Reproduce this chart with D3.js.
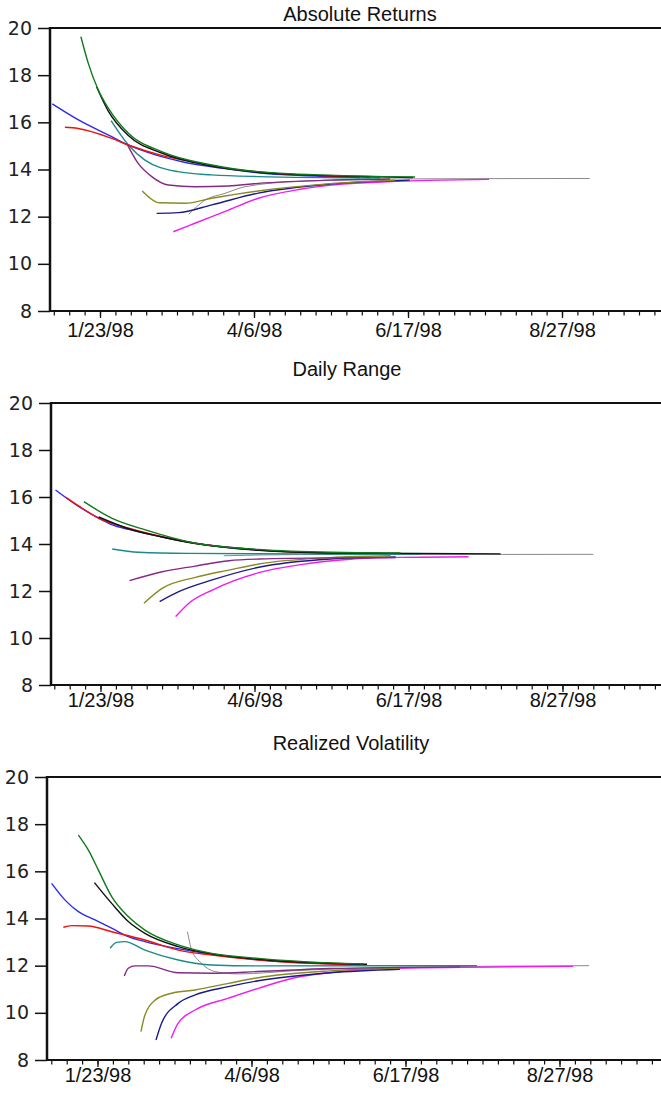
<!DOCTYPE html>
<html><head><meta charset="utf-8">
<script src="https://cdn.jsdelivr.net/npm/d3@7"></script>
<style>
html,body{margin:0;padding:0;background:#fff;}
svg{display:block;}
</style></head>
<body>
<svg id="c" width="661" height="1094"></svg>
<script>
// ---- tick labels / categories ----
const xMajorPos = [0, 50, 100, 150];                 // trading days from 1/23/98
const xMajorLabels = ["1/23/98", "4/6/98", "6/17/98", "8/27/98"];
const xMinorPos = d3.range(-15, 185, 5);
const yTicks = [8, 10, 12, 14, 16, 18, 20];
const titles = ["Absolute Returns", "Daily Range", "Realized Volatility"];
const seriesNames = ["gray", "magenta", "navy", "olive", "purple", "teal", "blue", "red", "black", "green"];

// ---- Absolute Returns: [trading day, value] ----
const ar_blue = [[-15.5,16.78],[-7,16.1],[3.8,15.39],[9.1,15.04],[18,14.62],[27,14.32],[40,14.05],[51.3,13.86],[74.7,13.7],[84.4,13.66]];
const ar_red = [[-11.4,15.79],[-7.1,15.74],[3.8,15.32],[9.2,15.04],[20,14.6],[29.2,14.35],[40,14.08],[51.3,13.9],[74.7,13.72],[87.7,13.67]];
const ar_green = [[-6.2,19.63],[-3.8,18.5],[-0.55,17.37],[2.7,16.6],[9.2,15.54],[20,14.76],[36.3,14.19],[51.3,13.91],[80,13.74],[102.3,13.68]];
const ar_black = [[-1.1,17.5],[2.6,16.5],[9.1,15.45],[20,14.7],[36.3,14.15],[51.3,13.88],[80,13.72],[101.6,13.66]];
const ar_teal = [[3.6,16.07],[9.2,15.04],[14.6,14.4],[25.3,13.91],[36.3,13.77],[51.3,13.7],[91,13.64]];
const ar_purple = [[8.7,15.1],[12.4,14.26],[16.8,13.7],[22.2,13.34],[30.8,13.27],[41.6,13.3],[51.3,13.41],[74.7,13.55],[94.2,13.6]];
const ar_olive = [[13.7,13.09],[19.5,12.59],[27.6,12.57],[36.3,12.78],[51.4,13.09],[74.7,13.4],[95.8,13.55]];
const ar_navy = [[18.4,12.14],[25.4,12.17],[36.3,12.5],[51.4,13.0],[74.7,13.38],[100.6,13.55]];
const ar_gray = [[28.9,12.11],[34.1,12.7],[40.6,12.99],[47.1,13.27],[65,13.5],[97.4,13.6],[159,13.62]];
const ar_magenta = [[23.8,11.36],[30.8,11.72],[41.7,12.28],[51.4,12.78],[65,13.16],[77.9,13.37],[93.1,13.48],[126.3,13.58]];

// ---- Daily Range ----
const dr_blue = [[-14.6,16.3],[-7,15.59],[-0.55,15.1],[3.8,14.81],[9.2,14.62],[20,14.3],[30.8,14.03],[51.3,13.75],[74.7,13.62],[87.7,13.6]];
const dr_red = [[-11.4,16.0],[-7.1,15.62],[-0.55,15.09],[9.2,14.67],[20,14.31],[30.8,14.03],[51.4,13.74],[74.7,13.62],[90.9,13.6]];
const dr_green = [[-5.4,15.8],[3.8,15.09],[14.6,14.6],[30.8,14.03],[51.4,13.77],[74.7,13.65],[97.4,13.62]];
const dr_black = [[-0.6,15.15],[9.1,14.65],[20,14.3],[30.8,14.02],[51.3,13.73],[74.7,13.62],[129.9,13.58]];
const dr_teal = [[3.8,13.79],[12.4,13.65],[28.6,13.6],[65,13.58],[103.9,13.57]];
const dr_purple = [[9.4,12.44],[20,12.82],[30.8,13.06],[41.7,13.29],[51.4,13.36],[74.7,13.41],[95.8,13.42]];
const dr_olive = [[14.1,11.48],[20,12.11],[30.8,12.58],[41.7,12.89],[51.4,13.15],[74.7,13.42],[94.2,13.5]];
const dr_navy = [[19.2,11.55],[25.4,11.97],[36.3,12.47],[51.4,13.01],[74.7,13.36],[95.8,13.45]];
const dr_gray = [[40,13.5],[65,13.55],[160,13.56]];
const dr_magenta = [[24.4,10.91],[28.7,11.48],[36.3,12.04],[51.4,12.78],[65,13.12],[81.2,13.35],[97.4,13.43],[119.5,13.46]];

// ---- Realized Volatility ----
const rv_blue = [[-14.9,15.49],[-10.6,14.79],[-6.2,14.29],[-0.8,13.94],[4.6,13.59],[10,13.23],[15.4,13.02],[26.1,12.72],[37.1,12.48],[52.1,12.25],[75.5,12.08],[85.2,12.05]];
const rv_red = [[-11.1,13.63],[-8.4,13.7],[-3,13.68],[4.6,13.44],[15.4,13.09],[26.2,12.66],[37.1,12.45],[52.1,12.24],[75.5,12.07],[82,12.05]];
const rv_green = [[-6.2,17.54],[-3,16.91],[0.26,16.06],[4.6,14.93],[10,14.08],[15.4,13.51],[26.2,12.88],[37.1,12.52],[52.2,12.31],[75.5,12.12],[86.2,12.08]];
const rv_black = [[-1,15.52],[4.6,14.64],[10,13.87],[15.4,13.37],[26.2,12.81],[37.1,12.5],[52.2,12.27],[75.5,12.1],[87.5,12.06]];
const rv_teal = [[4.1,12.74],[6.2,12.99],[8.9,13.02],[15.4,12.66],[26.2,12.24],[37.1,12.03],[52.2,11.99],[123.2,12.0]];
const rv_purple = [[8.7,11.56],[10,11.89],[12.2,11.99],[16.5,11.99],[26.2,11.7],[37.1,11.68],[52.2,11.75],[75.5,11.88],[117.7,11.95]];
const rv_olive = [[14.1,9.2],[15.4,9.91],[18.7,10.54],[24.1,10.83],[31.7,10.97],[42.5,11.25],[52.2,11.49],[75.5,11.78],[98.2,11.9]];
const rv_navy = [[19,8.85],[20.8,9.56],[26.2,10.4],[31.7,10.76],[42.5,11.11],[52.2,11.36],[75.5,11.7],[98.2,11.85]];
const rv_gray = [[29.2,13.44],[30.6,12.66],[33.8,12.1],[38.1,11.75],[45.7,11.65],[65.7,11.8],[98.2,11.93],[159.6,12.0]];
const rv_magenta = [[23.9,8.92],[26.2,9.56],[31.7,10.12],[42.5,10.62],[52.2,11.04],[65.7,11.53],[98.2,11.89],[154.4,11.97]];

// ---- styles ----
const colors = {
  blue: "#2a2af0", red: "#ee1111", green: "#0e7a1a", black: "#111111", teal: "#1a8a8a",
  purple: "#842a84", olive: "#8a8a22", navy: "#1a1a8c", gray: "#8a8a8a", magenta: "#f01cf0"
};

const panelData = [
  {gray: ar_gray, magenta: ar_magenta, navy: ar_navy, olive: ar_olive, purple: ar_purple, teal: ar_teal, blue: ar_blue, red: ar_red, black: ar_black, green: ar_green},
  {gray: dr_gray, magenta: dr_magenta, navy: dr_navy, olive: dr_olive, purple: dr_purple, teal: dr_teal, blue: dr_blue, red: dr_red, black: dr_black, green: dr_green},
  {gray: rv_gray, magenta: rv_magenta, navy: rv_navy, olive: rv_olive, purple: rv_purple, teal: rv_teal, blue: rv_blue, red: rv_red, black: rv_black, green: rv_green}
];

const layout = [
  {left: 50, top: 28, bottom: 311, x0: 100, titleX: 360, titleY: 21, labelY: 338},
  {left: 51, top: 403, bottom: 685, x0: 100.5, titleX: 347, titleY: 376, labelY: 708},
  {left: 47, top: 777, bottom: 1060, x0: 97.5, titleX: 351, titleY: 750, labelY: 1083}
];
const W = 661, pxPer50 = 154;

const svg = d3.select("#c");

layout.forEach((L, i) => {
  const g = svg.append("g");
  const x = d3.scaleLinear().domain([0, 150]).range([L.x0, L.x0 + 3 * pxPer50]);
  const y = d3.scaleLinear().domain([8, 20]).range([L.bottom, L.top]);

  // title
  g.append("text").attr("x", L.titleX).attr("y", L.titleY)
    .attr("text-anchor", "middle")
    .style("font-family", "'Liberation Sans', Arial, sans-serif")
    .style("font-size", "20px").attr("fill", "#111").text(titles[i]);

  // series
  const line = d3.line().x(d => x(d[0])).y(d => y(d[1])).curve(d3.curveMonotoneX);
  seriesNames.forEach(name => {
    g.append("path").datum(panelData[i][name])
      .attr("d", line).attr("fill", "none")
      .attr("stroke", colors[name])
      .attr("stroke-width", name === "gray" ? 1 : 1.4)
      .attr("stroke-linejoin", "round");
  });

  // x minor ticks
  const minor = g.append("g").attr("transform", `translate(0,${L.bottom})`)
    .call(d3.axisBottom(x).tickValues(xMinorPos.filter(t => x(t) > L.left + 1 && x(t) < W)).tickSize(4.5).tickFormat(""));
  minor.select(".domain").remove();
  minor.selectAll("line").attr("stroke", "#111").attr("stroke-width", 1.2);

  // x major ticks + labels
  const major = g.append("g").attr("transform", `translate(0,${L.bottom})`)
    .call(d3.axisBottom(x).tickValues(xMajorPos).tickSize(7).tickPadding(L.labelY - L.bottom - 22)
      .tickFormat((d, k) => xMajorLabels[k]));
  major.select(".domain").remove();
  major.selectAll("line").attr("stroke", "#111").attr("stroke-width", 1.3);
  major.selectAll("text")
    .style("font-family", "'Liberation Sans', Arial, sans-serif")
    .style("font-size", "20px").attr("fill", "#111");

  // y axis
  const ya = g.append("g").attr("transform", `translate(${L.left},0)`)
    .call(d3.axisLeft(y).tickValues(yTicks).tickSize(12).tickPadding(6));
  ya.select(".domain").remove();
  ya.selectAll("line").attr("stroke", "#111").attr("stroke-width", 1.5);
  ya.selectAll("text")
    .style("font-family", "'DejaVu Sans', sans-serif")
    .style("font-size", "19px").attr("fill", "#222");

  // frame lines: left, top, bottom
  g.append("line").attr("x1", L.left).attr("x2", L.left).attr("y1", L.top - 1).attr("y2", L.bottom + 1)
    .attr("stroke", "#111").attr("stroke-width", 2.5);
  g.append("line").attr("x1", L.left).attr("x2", W).attr("y1", L.top).attr("y2", L.top)
    .attr("stroke", "#111").attr("stroke-width", 2.2);
  g.append("line").attr("x1", L.left).attr("x2", W).attr("y1", L.bottom).attr("y2", L.bottom)
    .attr("stroke", "#111").attr("stroke-width", 2.2);
});
</script>
</body></html>
